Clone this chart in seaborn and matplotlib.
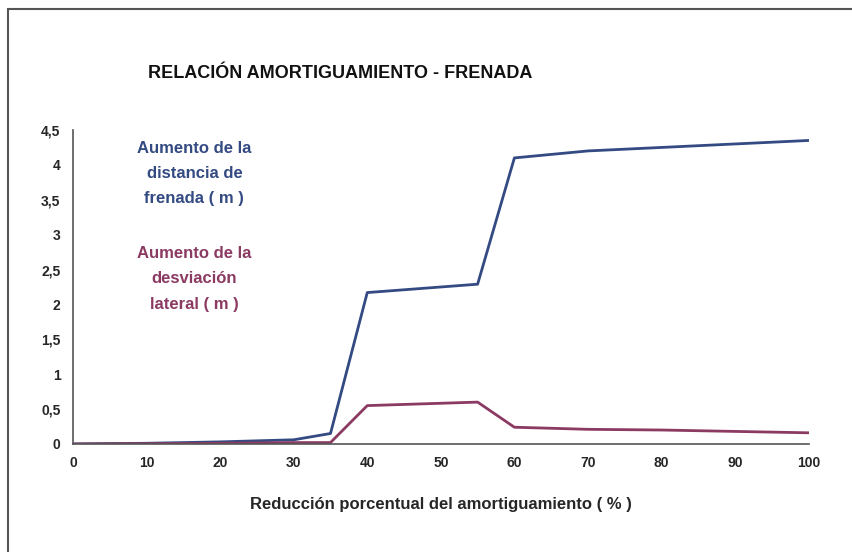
import matplotlib
matplotlib.use("Agg")
import matplotlib.pyplot as plt
import seaborn as sns
import pandas as pd
from matplotlib.patches import Rectangle

# Data
reduccion = [0, 10, 20, 30, 35, 40, 55, 60, 70, 80, 90, 100]
distancia_frenada = [0, 0.01, 0.03, 0.06, 0.15, 2.17, 2.29, 4.1, 4.2, 4.25, 4.3, 4.35]
desviacion_lateral = [0, 0.005, 0.01, 0.02, 0.02, 0.55, 0.6, 0.24, 0.21, 0.2, 0.18, 0.16]
x_ticks = [0, 10, 20, 30, 40, 50, 60, 70, 80, 90, 100]
y_ticks = [0, 0.5, 1, 1.5, 2, 2.5, 3, 3.5, 4, 4.5]
y_tick_labels = ["0", "0,5", "1", "1,5", "2", "2,5", "3", "3,5", "4", "4,5"]

sns.set_theme(style="white")
plt.rcParams['font.family'] = ['Liberation Sans', 'DejaVu Sans']

blue = "#334a82"
red = "#8b3a62"

df = pd.DataFrame({
    "x": reduccion * 2,
    "y": distancia_frenada + desviacion_lateral,
    "serie": ["frenada"] * len(reduccion) + ["lateral"] * len(reduccion),
})

fig = plt.figure(figsize=(8.53, 5.52), dpi=100)
ax = fig.add_axes([0.0856, 0.1957, 0.8624, 0.5688])

sns.lineplot(data=df, x="x", y="y", hue="serie", palette={"frenada": blue, "lateral": red},
             linewidth=2, legend=False, ax=ax)

ax.set_xlim(0, 100)
ax.set_ylim(0, 4.5)
ax.set_xticks(x_ticks)
ax.set_yticks(y_ticks)
ax.set_yticklabels(y_tick_labels)
for lbl in ax.get_xticklabels() + ax.get_yticklabels():
    lbl.set_fontweight("bold")
    lbl.set_fontsize(10)
ax.tick_params(axis="both", direction="inout", length=6, width=1.2, color="#444444", pad=6)
for s in ["top", "right"]:
    ax.spines[s].set_visible(False)
for s in ["left", "bottom"]:
    ax.spines[s].set_color("#555555")
    ax.spines[s].set_linewidth(1.2)

ax.set_xlabel("Reducción porcentual del amortiguamiento ( % )", fontsize=12, fontweight="bold", labelpad=19)
ax.set_ylabel("")

fig.text(0.399, 0.866, "RELACIÓN AMORTIGUAMIENTO - FRENADA", ha="center", va="center",
         fontsize=13, fontweight="bold", color="#111111")

ax.text(0.165, 0.965, "Aumento de la\ndistancia de\nfrenada ( m )", transform=ax.transAxes,
        ha="center", va="top", fontsize=12, fontweight="bold", color=blue, linespacing=1.85)
ax.text(0.165, 0.63, "Aumento de la\ndesviación\nlateral ( m )", transform=ax.transAxes,
        ha="center", va="top", fontsize=12, fontweight="bold", color=red, linespacing=1.85)

# outer frame (left and top edges visible)
fig.patches.append(Rectangle((0.0094, -0.1), 1.2, 1.0837, transform=fig.transFigure,
                             fill=False, edgecolor="#555555", linewidth=1.5))

fig.savefig("out.png", dpi=100)
